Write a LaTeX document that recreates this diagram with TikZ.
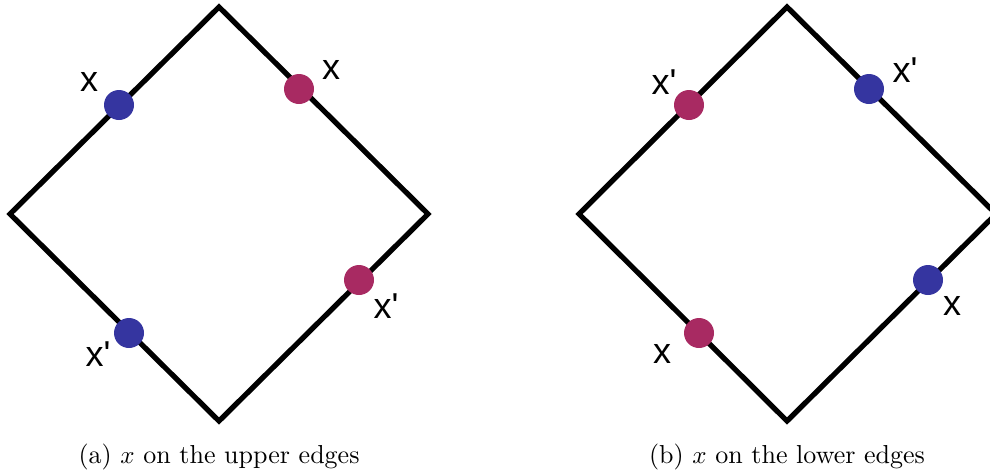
\documentclass[tikz,border=0pt]{standalone}
\usepackage{fontspec}
\newfontfamily\lblfont{Liberation Sans}
\definecolor{dotblue}{RGB}{53,53,160}
\definecolor{dotred}{RGB}{168,42,98}
\usetikzlibrary{positioning}

\begin{document}
\begin{tikzpicture}[
  x=0.4pt, y=-0.4pt,
  edge/.style={line width=2.1pt, line join=miter, black},
  dot/.style={circle, inner sep=0pt, minimum size=12pt},
  tag/.style={font=\lblfont\Large, inner sep=0pt},
  caption/.style={font=\fontsize{10.4}{12.5}\selectfont, inner sep=0pt},
]
  \clip (0,0) rectangle (990,474);
  \useasboundingbox (0,0) rectangle (990,474);

  % (a) x on the upper edges
  \coordinate (aT) at (219,7);
  \coordinate (aL) at (10,214);
  \coordinate (aR) at (428,214);
  \coordinate (aB) at (219,421);
  \draw[edge] (aT) -- (aR) -- (aB) -- (aL) -- cycle;

  \node[dot, fill=dotblue] (a1) at (119,105) {};
  \node[dot, fill=dotred]  (a2) at (299,89)  {};
  \node[dot, fill=dotred]  (a3) at (359,280) {};
  \node[dot, fill=dotblue] (a4) at (129,333) {};

  \node[tag] (ta1) at ([shift={(-30,-23)}]a1) {x};
  \node[tag] (ta2) at ([shift={(32,-19)}]a2)  {x};
  \node[tag] (ta3) at ([shift={(27,26)}]a3)   {x'};
  \node[tag] (ta4) at ([shift={(-31,21)}]a4)  {x'};

  \node[caption] (capa) at (219,457) {(a) $x$ on the upper edges};

  % (b) x on the lower edges
  \coordinate (bT) at (787,7);
  \coordinate (bL) at (579,214);
  \coordinate (bR) at (996,214);
  \coordinate (bB) at (787,421);
  \draw[edge] (bT) -- (bR) -- (bB) -- (bL) -- cycle;

  \node[dot, fill=dotred]  (b1) at (689,105) {};
  \node[dot, fill=dotblue] (b2) at (869,89)  {};
  \node[dot, fill=dotblue] (b3) at (928,280) {};
  \node[dot, fill=dotred]  (b4) at (699,333) {};

  \node[tag] (tb1) at ([shift={(-25,-23)}]b1) {x'};
  \node[tag] (tb2) at ([shift={(36,-19)}]b2)  {x'};
  \node[tag] (tb3) at ([shift={(24,26)}]b3)   {x};
  \node[tag] (tb4) at ([shift={(-37,21)}]b4)  {x};

  \node[caption] (capb) at (787,457) {(b) $x$ on the lower edges};
\end{tikzpicture}
\end{document}
